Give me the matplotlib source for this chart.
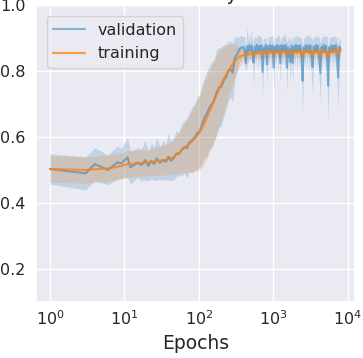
import numpy as np
import matplotlib
matplotlib.use("Agg")
import matplotlib.pyplot as plt
import seaborn as sns

sns.set_theme(style="darkgrid")
plt.rcParams['font.family'] = ['DejaVu Sans']

epochs = [1, 3, 4, 6, 8, 9, 11, 12, 15, 17, 19, 21, 23, 25, 27, 30, 33, 36, 39, 42,
          46, 50, 54, 59, 64, 69, 75, 81, 88, 95, 103, 111, 120, 129, 139, 150, 161,
          173, 186, 200, 215, 231, 248, 266, 285, 305, 327, 350, 375,
          400, 414, 428, 443, 459, 475, 492, 509, 527, 545, 564, 584, 604, 625, 647,
          670, 693, 717, 742, 768, 795, 823, 852, 882, 913, 945, 978, 1012, 1047, 1084,
          1122, 1161, 1202, 1244, 1287, 1332, 1379, 1427, 1477, 1529, 1582, 1638, 1695,
          1754, 1816, 1879, 1945, 2013, 2084, 2157, 2232, 2310, 2391, 2475, 2561, 2651,
          2744, 2840, 2939, 3042, 3149, 3259, 3373, 3491, 3613, 3740, 3871, 4006, 4146,
          4291, 4442, 4597, 4758, 4925, 5097, 5275, 5460, 5651, 5849, 6054, 6266, 6485,
          6712, 6947, 7190, 7442, 7702, 8000]

val_mean = [0.503, 0.490, 0.518, 0.500, 0.523, 0.520, 0.538, 0.508, 0.522, 0.515,
            0.530, 0.512, 0.528, 0.518, 0.535, 0.522, 0.530, 0.525, 0.540, 0.528,
            0.536, 0.550, 0.548, 0.562, 0.570, 0.566, 0.585, 0.590, 0.600, 0.612,
            0.618, 0.640, 0.660, 0.672, 0.690, 0.700, 0.712, 0.735, 0.750, 0.752,
            0.770, 0.780, 0.800, 0.805, 0.795, 0.840, 0.850, 0.865, 0.872,
            0.872, 0.860, 0.824, 0.876, 0.858, 0.878, 0.862, 0.877, 0.855, 0.825,
            0.874, 0.860, 0.879, 0.857, 0.876, 0.862, 0.878, 0.797, 0.870, 0.858,
            0.879, 0.820, 0.875, 0.860, 0.878, 0.856, 0.877, 0.810, 0.873, 0.859,
            0.879, 0.857, 0.876, 0.824, 0.878, 0.858, 0.877, 0.861, 0.879, 0.810,
            0.872, 0.859, 0.827, 0.877, 0.824, 0.875, 0.858, 0.879, 0.856, 0.877,
            0.861, 0.878, 0.840, 0.770, 0.872, 0.857, 0.879, 0.860, 0.877, 0.855,
            0.878, 0.840, 0.812, 0.874, 0.858, 0.879, 0.856, 0.877, 0.835, 0.794,
            0.873, 0.858, 0.879, 0.857, 0.876, 0.845, 0.755, 0.872, 0.858, 0.878,
            0.856, 0.877, 0.860, 0.879, 0.835, 0.780, 0.874, 0.862]

val_std = [0.046, 0.050, 0.050, 0.045, 0.050, 0.045, 0.060, 0.050, 0.045, 0.050,
           0.060, 0.045, 0.055, 0.050, 0.065, 0.050, 0.060, 0.055, 0.070, 0.060,
           0.065, 0.070, 0.065, 0.080, 0.080, 0.090, 0.090, 0.100, 0.100, 0.110,
           0.110, 0.120, 0.120, 0.130, 0.125, 0.130, 0.125, 0.130, 0.120, 0.120,
           0.110, 0.100, 0.090, 0.085, 0.090, 0.065, 0.050, 0.040, 0.035,
           0.030, 0.045, 0.025, 0.060, 0.030, 0.040, 0.025, 0.050, 0.030, 0.070,
           0.030, 0.040, 0.025, 0.055, 0.030, 0.045, 0.025, 0.080, 0.030, 0.040,
           0.025, 0.060, 0.030, 0.045, 0.025, 0.050, 0.030, 0.070, 0.030, 0.040,
           0.025, 0.055, 0.030, 0.060, 0.025, 0.045, 0.030, 0.050, 0.025, 0.075,
           0.030, 0.040, 0.060, 0.030, 0.065, 0.030, 0.045, 0.025, 0.050, 0.030,
           0.040, 0.025, 0.060, 0.100, 0.030, 0.045, 0.025, 0.050, 0.030, 0.055,
           0.025, 0.060, 0.080, 0.030, 0.045, 0.025, 0.050, 0.030, 0.065, 0.090,
           0.030, 0.045, 0.025, 0.050, 0.030, 0.060, 0.110, 0.030, 0.045, 0.025,
           0.050, 0.030, 0.045, 0.025, 0.065, 0.100, 0.030, 0.030]

train_mean = [0.503, 0.500, 0.502, 0.505, 0.510, 0.512, 0.518, 0.518, 0.520, 0.521,
              0.522, 0.523, 0.524, 0.525, 0.527, 0.528, 0.530, 0.531, 0.533, 0.536,
              0.540, 0.547, 0.552, 0.560, 0.567, 0.573, 0.580, 0.587, 0.595, 0.604,
              0.615, 0.628, 0.645, 0.660, 0.678, 0.695, 0.710, 0.728, 0.744, 0.760,
              0.775, 0.788, 0.800, 0.810, 0.822, 0.830, 0.838, 0.843, 0.846,
              0.848, 0.850, 0.846, 0.852, 0.849, 0.853, 0.850, 0.854, 0.851, 0.848,
              0.855, 0.852, 0.856, 0.853, 0.857, 0.852, 0.856, 0.850, 0.857, 0.854,
              0.858, 0.853, 0.857, 0.855, 0.859, 0.854, 0.858, 0.851, 0.857, 0.855,
              0.859, 0.854, 0.858, 0.853, 0.859, 0.855, 0.860, 0.856, 0.859, 0.851,
              0.858, 0.855, 0.852, 0.859, 0.853, 0.860, 0.856, 0.861, 0.855, 0.860,
              0.857, 0.861, 0.852, 0.845, 0.859, 0.856, 0.861, 0.857, 0.860, 0.855,
              0.861, 0.853, 0.849, 0.859, 0.856, 0.861, 0.857, 0.860, 0.852, 0.847,
              0.859, 0.856, 0.862, 0.857, 0.861, 0.852, 0.842, 0.858, 0.856, 0.862,
              0.858, 0.863, 0.859, 0.864, 0.855, 0.850, 0.862, 0.865]

train_std = [0.040, 0.040, 0.040, 0.040, 0.040, 0.040, 0.040, 0.040, 0.040, 0.040,
             0.040, 0.040, 0.040, 0.042, 0.042, 0.043, 0.045, 0.046, 0.048, 0.050,
             0.053, 0.058, 0.063, 0.068, 0.074, 0.080, 0.087, 0.094, 0.100, 0.108,
             0.115, 0.120, 0.125, 0.125, 0.125, 0.125, 0.120, 0.120, 0.115, 0.110,
             0.100, 0.090, 0.080, 0.070, 0.060, 0.050, 0.040, 0.030, 0.025,
             0.020, 0.018, 0.020, 0.016, 0.018, 0.015, 0.017, 0.015, 0.018, 0.016,
             0.015, 0.017, 0.014, 0.016, 0.015, 0.017, 0.014, 0.018, 0.015, 0.016,
             0.014, 0.017, 0.015, 0.016, 0.014, 0.017, 0.015, 0.018, 0.015, 0.016,
             0.014, 0.017, 0.015, 0.016, 0.014, 0.017, 0.015, 0.016, 0.014, 0.018,
             0.015, 0.016, 0.017, 0.014, 0.017, 0.015, 0.016, 0.014, 0.017, 0.015,
             0.016, 0.014, 0.018, 0.020, 0.015, 0.016, 0.014, 0.017, 0.015, 0.016,
             0.014, 0.018, 0.019, 0.015, 0.016, 0.014, 0.017, 0.015, 0.018, 0.019,
             0.015, 0.016, 0.014, 0.017, 0.015, 0.018, 0.020, 0.015, 0.016, 0.014,
             0.017, 0.015, 0.016, 0.014, 0.018, 0.019, 0.015, 0.015]

x = np.array(epochs)
vm, vs = np.array(val_mean), np.array(val_std)
tm, ts = np.array(train_mean), np.array(train_std)

fig = plt.figure(figsize=(3.63, 3.58), dpi=100)
ax = fig.add_axes([35.5 / 363, 1 - 302 / 358, (355 - 35.5) / 363, 297 / 358])

ax.fill_between(x, vm - vs, vm + vs, color="tab:blue", alpha=0.2, lw=0)
ax.plot(x, vm, color="tab:blue", alpha=0.5, lw=1.5, label="validation")
ax.fill_between(x, tm - ts, tm + ts, color="tab:orange", alpha=0.2, lw=0)
ax.plot(x, tm, color="tab:orange", alpha=0.75, lw=1.6, label="training")

ax.set_xscale("log")
ax.set_ylim(0.1, 1.0)
ax.set_yticks([0.2, 0.4, 0.6, 0.8, 1.0])
ax.tick_params(axis="both", labelsize=11.5, length=0)
ax.tick_params(axis="y", pad=7.2)
ax.tick_params(axis="x", pad=5)
ax.set_xlabel("Epochs", fontsize=13.5, labelpad=4.5)
ax.set_title("Accuracy", fontsize=13.5, pad=3.5)
ax.legend(loc="upper left", fontsize=11.5, borderaxespad=0.7, labelspacing=0.55)

fig.savefig("out.png", dpi=100)
